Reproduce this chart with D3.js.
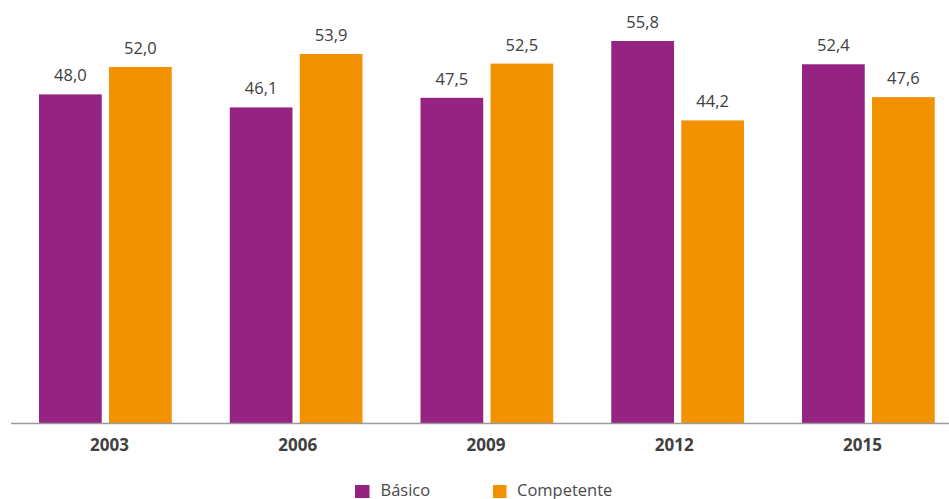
<!DOCTYPE html>
<html><head><meta charset="utf-8">
<script src="https://cdn.jsdelivr.net/npm/d3@7"></script>
<style>body{margin:0;background:#fff}svg{display:block}</style>
</head><body>
<svg id="c" width="949" height="499"></svg>
<script>
const years = ["2003","2006","2009","2012","2015"];
const seriesNames = ["Básico","Competente"];
const basico = [48.0, 46.1, 47.5, 55.8, 52.4];
const competente = [52.0, 53.9, 52.5, 44.2, 47.6];
const colors = ["#952381","#f39200"];

const svg = d3.select("#c");
const W = 949, baseY = 423;
const fmt = v => d3.format(".1f")(v).replace(".", ",");

const x0 = d3.scaleBand().domain(years).range([10, 963.75]).padding(0);
const groupW = 132.7;
const x1 = d3.scaleBand().domain(seriesNames)
  .range([(x0.bandwidth()-groupW)/2, (x0.bandwidth()+groupW)/2]).paddingInner(0.104);
const xLab = d3.scalePoint().domain(years).range([109.5, 862.5]);
const y = d3.scaleLinear().domain([0, 60]).range([baseY, baseY - 60*6.846]);

const data = years.map((yr,i)=>({year:yr, vals:[
  {s:seriesNames[0], v:basico[i], c:colors[0]},
  {s:seriesNames[1], v:competente[i], c:colors[1]}]}));

const g = svg.selectAll("g.grp").data(data).join("g").attr("class","grp")
  .attr("transform", d=>`translate(${x0(d.year)},0)`);
g.selectAll("rect").data(d=>d.vals).join("rect")
  .attr("x", d=>x1(d.s)).attr("width", x1.bandwidth())
  .attr("y", d=>y(d.v)).attr("height", d=>baseY - y(d.v))
  .attr("fill", d=>d.c);
g.selectAll("text").data(d=>d.vals).join("text")
  .attr("x", d=>x1(d.s)+x1.bandwidth()/2).attr("y", d=>y(d.v)-13)
  .attr("text-anchor","middle")
  .attr("font-family","'Open Sans', sans-serif").attr("font-size","16.5px")
  .attr("fill","#404040").text(d=>fmt(d.v));

// axis line
svg.append("line").attr("x1",11).attr("x2",W).attr("y1",baseY+0.5).attr("y2",baseY+0.5)
  .attr("stroke","#9a9a9a").attr("stroke-width",1.5);

// axis labels
svg.selectAll("text.xl").data(years).join("text").attr("class","xl")
  .attr("x", d=>xLab(d)).attr("y", 451).attr("text-anchor","middle")
  .attr("font-family","'Open Sans', sans-serif").attr("font-weight","bold")
  .attr("font-size","17px").attr("fill","#404040").text(d=>d);

// legend
const legX = [355, 493];
const lg = svg.selectAll("g.leg").data(seriesNames).join("g").attr("class","leg")
  .attr("transform",(d,i)=>`translate(${legX[i]},0)`);
lg.append("rect").attr("x",0).attr("y",485).attr("width",(d,i)=>i===0?14.5:13.5).attr("height",13)
  .attr("fill",(d,i)=>colors[i]);
lg.append("text").attr("x",(d,i)=>i===0?25.5:24).attr("y",495.5)
  .attr("font-family","'Open Sans', sans-serif").attr("font-size","16.5px")
  .attr("fill","#4a4a4a").text(d=>d);
</script>
</body></html>
